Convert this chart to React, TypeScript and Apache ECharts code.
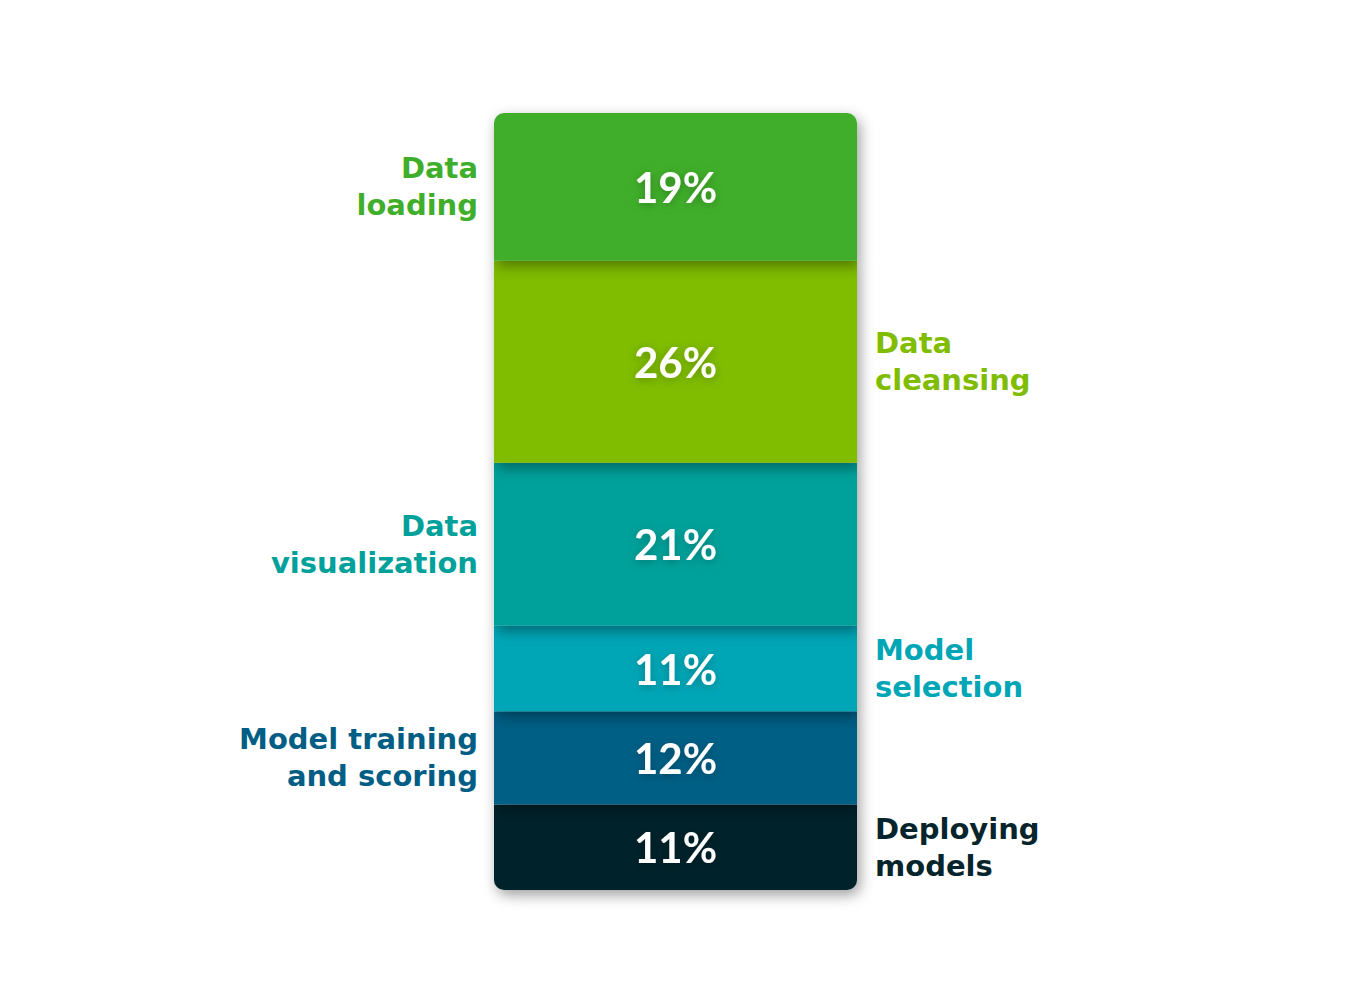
import React, { useEffect, useRef } from "react";
import * as echarts from "echarts";

const stages = [
  "Data\nloading",
  "Data\ncleansing",
  "Data\nvisualization",
  "Model\nselection",
  "Model training\nand scoring",
  "Deploying\nmodels",
];
const shares = [19, 26, 21, 11, 12, 11];
const colors = ["#3FAE2A", "#80BC00", "#00A19A", "#00A6B6", "#005E85", "#06242B"];
const sides = ["left", "right", "left", "right", "left", "right"];
const category = ["Time spent"];

export default function App() {
  const ref = useRef<HTMLDivElement>(null);
  useEffect(() => {
    if (!ref.current) return;
    const chart = echarts.init(ref.current, undefined, { renderer: "svg" });
    const n = shares.length;
    const barSeries = shares.map((v, i) => ({
      type: "bar",
      name: stages[i],
      stack: "total",
      xAxisIndex: 0,
      yAxisIndex: 0,
      barWidth: "100%",
      z: 20 - i,
      data: [v],
      itemStyle: {
        color: colors[i],
        borderRadius: i === 0 ? [10, 10, 0, 0] : i === n - 1 ? [0, 0, 10, 10] : 0,
        shadowBlur: 14,
        shadowColor: "rgba(0,0,0,0.38)",
        shadowOffsetX: 3,
        shadowOffsetY: 5,
      },
      label: {
        show: true,
        position: "inside",
        formatter: "{c}%",
        color: "#ffffff",
        fontFamily: "Lato",
        fontWeight: "bold",
        fontSize: 42,
        textShadowColor: "rgba(0,0,0,0.25)",
        textShadowBlur: 8,
        textShadowOffsetY: 2,
      },
      silent: true,
    }));
    const sideSeries = shares.map((v, i) => ({
      type: "bar",
      name: stages[i] + " label",
      stack: "side",
      xAxisIndex: 1,
      yAxisIndex: 0,
      barWidth: "100%",
      z: 1,
      data: [v],
      itemStyle: { color: "rgba(0,0,0,0)" },
      label: {
        show: true,
        position: sides[i],
        distance: sides[i] === "left" ? 16 : 18,
        formatter: stages[i],
        align: sides[i] === "left" ? "right" : "left",
        color: colors[i],
        fontFamily: "DejaVu Sans",
        fontWeight: "bold",
        fontSize: 29,
        lineHeight: 37,
      },
      silent: true,
    }));
    chart.setOption({
      animation: false,
      backgroundColor: "#ffffff",
      grid: { left: 494, top: 113, width: 363, height: 777, containLabel: false },
      xAxis: [
        { type: "category", data: category, show: false },
        { type: "category", data: category, show: false },
      ],
      yAxis: { type: "value", min: 0, max: 100, inverse: true, show: false },
      series: [...barSeries, ...sideSeries],
    });
    return () => chart.dispose();
  }, []);
  return (
    <div
      ref={ref}
      style={{ position: "absolute", left: 0, top: 0, width: 1367, height: 984 }}
    />
  );
}
